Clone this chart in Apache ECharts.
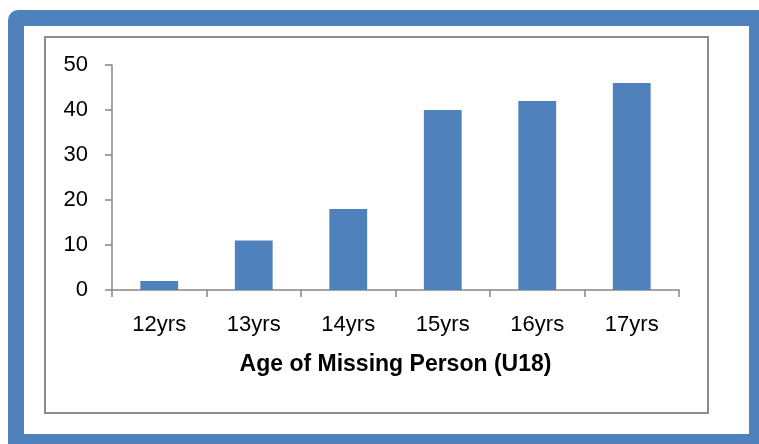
<!DOCTYPE html>
<html>
<head>
<meta charset="utf-8">
<script src="https://cdn.jsdelivr.net/npm/echarts@6/dist/echarts.min.js"></script>
<style>
  html, body { margin: 0; padding: 0; background: #fff; }
  #chart { width: 759px; height: 444px; }
</style>
</head>
<body>
<div id="chart"></div>
<script>
var ageList = ['12yrs', '13yrs', '14yrs', '15yrs', '16yrs', '17yrs'];
var countList = [2, 11, 18, 40, 42, 46];
var yTicks = [0, 10, 20, 30, 40, 50];

var myChart = echarts.init(document.getElementById('chart'));
var axisGray = '#868686';
var option = {
    backgroundColor: '#fff',
    animation: false,
    textStyle: { fontFamily: 'Liberation Sans' },
    graphic: [
        // blue frame
        { type: 'rect', z: -10, silent: true,
          shape: { x: 8, y: 10, width: 800, height: 500, r: [10, 0, 0, 0] },
          style: { fill: '#4f81bd' } },
        { type: 'rect', z: -9, silent: true,
          shape: { x: 24, y: 26, width: 725, height: 408 },
          style: { fill: '#fff' } },
        // chart area border
        { type: 'rect', z: -8, silent: true,
          shape: { x: 45, y: 37, width: 663, height: 376 },
          style: { fill: 'none', stroke: '#8c8c8c', lineWidth: 2 } }
    ],
    grid: { left: 112, right: 80, top: 65, bottom: 154 },
    xAxis: {
        type: 'category',
        data: ageList,
        name: 'Age of Missing Person (U18)',
        nameLocation: 'middle',
        nameGap: 63,
        nameTextStyle: { fontSize: 23, fontWeight: 'bold', color: '#000', fontFamily: 'Liberation Sans' },
        axisLine: { lineStyle: { color: axisGray, width: 1.5 } },
        axisTick: { show: true, length: 7, alignWithLabel: false, lineStyle: { color: axisGray, width: 1.5 } },
        axisLabel: { fontSize: 22, color: '#000', margin: 24 }
    },
    yAxis: {
        type: 'value',
        min: 0,
        max: 50,
        interval: 10,
        splitLine: { show: false },
        axisLine: { show: true, lineStyle: { color: axisGray, width: 1.5 } },
        axisTick: { show: true, length: 7, lineStyle: { color: axisGray, width: 1.5 } },
        axisLabel: {
            fontSize: 22, color: '#000', margin: 24,
            formatter: function (v) { return yTicks.indexOf(v) >= 0 ? String(v) : ''; }
        }
    },
    series: [{
        name: 'Missing',
        type: 'bar',
        data: countList,
        barWidth: '40%',
        itemStyle: { color: '#4f81bd' }
    }]
};
myChart.setOption(option);
</script>
</body>
</html>
